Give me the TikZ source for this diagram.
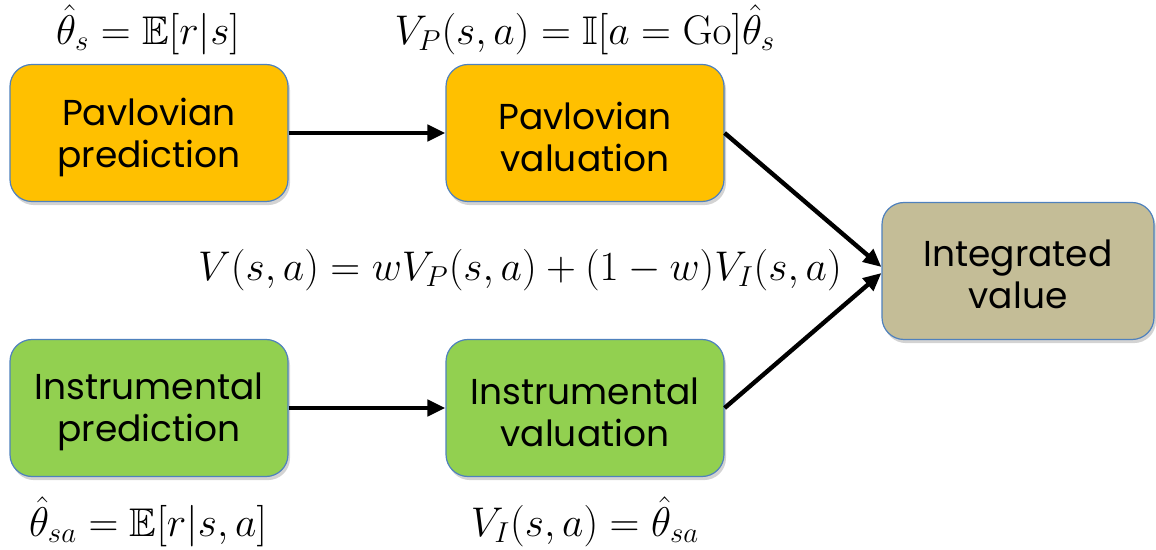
\documentclass[tikz,border=0pt]{standalone}
\usepackage{amsmath,amssymb}
\usepackage[no-math]{fontspec}
\newfontfamily\boxfont{Poppins}
\usetikzlibrary{arrows.meta,shadows}
\definecolor{orangebox}{HTML}{FFC000}
\definecolor{greenbox}{HTML}{92D050}
\definecolor{tanbox}{HTML}{C4BD97}
\definecolor{edgeblue}{HTML}{4F81BD}
\begin{document}
\begin{tikzpicture}[x=0.5pt,y=-0.5pt,
  box/.style={draw=edgeblue, line width=0.6pt, rounded corners=11pt,
    minimum width=139pt, minimum height=68.5pt,
    drop shadow={opacity=0.35, shadow xshift=1pt, shadow yshift=-1.8pt}},
  boxtext/.style={align=center, font=\boxfont\fontsize{18}{21}\selectfont, text=black},
  conn/.style={line width=2.2pt, -{Triangle[length=9pt,width=8pt]}},
  lbl/.style={font=\fontsize{20}{24}\selectfont, inner sep=0pt}]
\useasboundingbox (0,0) rectangle (1156,550);
\node[box, fill=orangebox] (pp) at (149,133) {};
\node[box, fill=orangebox] (pv) at (585,133) {};
\node[box, fill=greenbox] (ip) at (149,408) {};
\node[box, fill=greenbox] (iv) at (585,408) {};
\node[box, fill=tanbox, minimum width=136pt] (int) at (1018,271) {};
\node[boxtext] (ppt) at (149,137) {Pavlovian\\prediction};
\node[boxtext] (pvt) at (585,137) {Pavlovian\\valuation};
\node[boxtext] (ipt) at (149,412) {Instrumental\\prediction};
\node[boxtext] (ivt) at (585,412) {Instrumental\\valuation};
\node[boxtext] (intt) at (1018,274) {Integrated\\value};
\draw[conn] (pp) -- (pv);
\draw[conn] (ip) -- (iv);
\draw[conn] (pv.east) -- ([yshift=2pt]int.west);
\draw[conn] (iv.east) -- ([yshift=-1pt]int.west);
\node[lbl] (l1) at (148,30) {$\hat{\theta}_s = \mathbb{E}[r|s]$};
\node[lbl] (l2) at (585,30) {$V_P(s,a) = \mathbb{I}[a=\mathrm{Go}]\hat{\theta}_s$};
\node[lbl] (l3) at (520,270) {$V(s,a) = wV_P(s,a) + (1-w)V_I(s,a)$};
\node[lbl] (l4) at (148,522) {$\hat{\theta}_{sa} = \mathbb{E}[r|s,a]$};
\node[lbl] (l5) at (585,522) {$V_I(s,a) = \hat{\theta}_{sa}$};
\end{tikzpicture}
\end{document}
